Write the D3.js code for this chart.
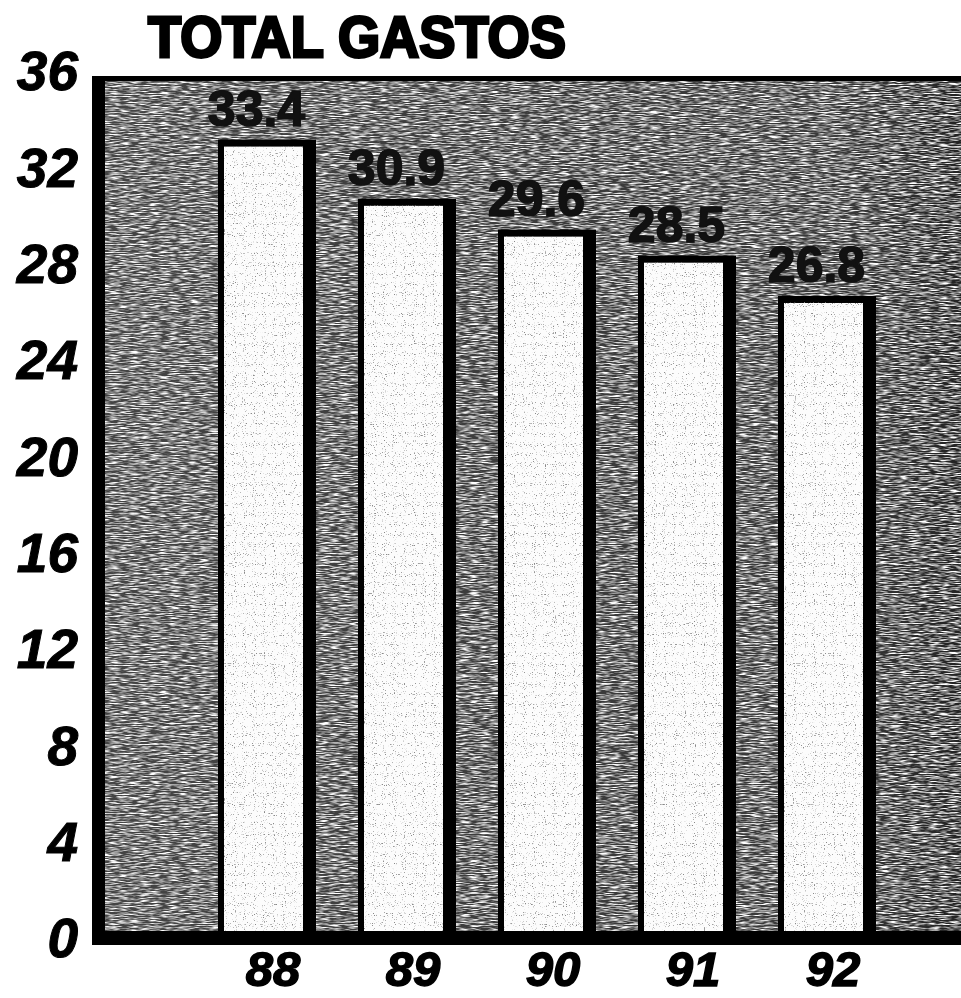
<!DOCTYPE html>
<html>
<head>
<meta charset="utf-8">
<script src="https://cdn.jsdelivr.net/npm/d3@7"></script>
<style>
  body { margin: 0; background: #fff; }
  svg { display: block; }
  text { font-family: "Liberation Sans", Arial, sans-serif; }
</style>
</head>
<body>
<div id="chart"></div>
<script>
// data
const title = "TOTAL GASTOS";
const years = ["88", "89", "90", "91", "92"];
const values = [33.4, 30.9, 29.6, 28.5, 26.8];
const valueLabels = ["33.4", "30.9", "29.6", "28.5", "26.8"];
const yTicks = [0, 4, 8, 12, 16, 20, 24, 28, 32, 36];

const width = 961, height = 998;
const plot = {left: 92, top: 76, right: 961, bottom: 945, border: 13, topBorder: 5, baseBorder: 14};

const svg = d3.select("#chart").append("svg")
    .attr("width", width)
    .attr("height", height);

svg.append("rect").attr("width", width).attr("height", height).attr("fill", "#fff");

const defs = svg.append("defs");

// horizontal streaky print texture for the background
const grain = defs.append("filter").attr("id", "grain")
    .attr("x", 0).attr("y", 0).attr("width", "100%").attr("height", "100%");
grain.append("feTurbulence")
    .attr("type", "fractalNoise")
    .attr("baseFrequency", "0.1 0.9")
    .attr("numOctaves", 2)
    .attr("seed", 7);
grain.append("feColorMatrix")
    .attr("type", "matrix")
    .attr("values", "0 0 0 0 1  0 0 0 0 1  0 0 0 0 1  3 0 0 0 -1.2");

// sparse dark specks on the white bars
const specks = defs.append("filter").attr("id", "specks")
    .attr("x", 0).attr("y", 0).attr("width", "100%").attr("height", "100%");
specks.append("feTurbulence")
    .attr("type", "fractalNoise")
    .attr("baseFrequency", "0.9")
    .attr("numOctaves", 1)
    .attr("seed", 11);
specks.append("feColorMatrix")
    .attr("type", "matrix")
    .attr("values", "0 0 0 0 0.25  0 0 0 0 0.25  0 0 0 0 0.25  7 0 0 0 -4.3");

const shade = defs.append("linearGradient").attr("id", "shade")
    .attr("x1", 0).attr("x2", 1).attr("y1", 0).attr("y2", 0);
shade.append("stop").attr("offset", "0%").attr("stop-color", "#444");
shade.append("stop").attr("offset", "55%").attr("stop-color", "#3a3a3a");
shade.append("stop").attr("offset", "85%").attr("stop-color", "#3a3a3a");
shade.append("stop").attr("offset", "100%").attr("stop-color", "#222");

const y = d3.scaleLinear().domain([0, 36]).range([931, 78]);
// the printed tick numbers sit on a slightly wider spacing than the bars
const yTick = d3.scaleLinear().domain([0, 36]).range([937, 70]);

const x = d3.scaleBand()
    .domain(years)
    .range([197, 897])
    .paddingInner(0.3)
    .paddingOuter(0.15);

// plot background
const bgX = plot.left + plot.border, bgY = plot.top + plot.topBorder;
svg.append("rect")
    .attr("x", bgX).attr("y", bgY)
    .attr("width", plot.right - bgX).attr("height", y(0) - bgY)
    .attr("fill", "url(#shade)");
svg.append("rect")
    .attr("x", bgX).attr("y", bgY)
    .attr("width", plot.right - bgX).attr("height", y(0) - bgY)
    .attr("filter", "url(#grain)");

// frame
svg.append("rect")
    .attr("x", plot.left).attr("y", plot.top)
    .attr("width", plot.border).attr("height", plot.bottom - plot.top)
    .attr("fill", "#000");
svg.append("rect")
    .attr("x", plot.left).attr("y", plot.top)
    .attr("width", plot.right - plot.left).attr("height", plot.topBorder)
    .attr("fill", "#000");
svg.append("rect")
    .attr("x", plot.left).attr("y", y(0))
    .attr("width", plot.right - plot.left).attr("height", plot.baseBorder)
    .attr("fill", "#000");

// bars: black block with a white face, thick shadow on the right
const bars = svg.selectAll(".bar")
    .data(years)
    .enter()
    .append("g")
    .attr("class", "bar");

bars.append("rect")
    .attr("x", d => x(d))
    .attr("y", (d, i) => y(values[i]))
    .attr("width", x.bandwidth())
    .attr("height", (d, i) => y(0) - y(values[i]))
    .attr("fill", "#000");

bars.append("rect")
    .attr("x", d => x(d) + 6)
    .attr("y", (d, i) => y(values[i]) + 7)
    .attr("width", x.bandwidth() - 19)
    .attr("height", (d, i) => y(0) - y(values[i]) - 7)
    .attr("fill", "#fcfcfc");

bars.append("rect")
    .attr("x", d => x(d) + 6)
    .attr("y", (d, i) => y(values[i]) + 7)
    .attr("width", x.bandwidth() - 19)
    .attr("height", (d, i) => y(0) - y(values[i]) - 7)
    .attr("filter", "url(#specks)");

bars.append("text")
    .attr("x", d => x(d) + (x.bandwidth() - 13) / 2 - 4)
    .attr("y", (d, i) => y(values[i]) - 14)
    .attr("text-anchor", "middle")
    .attr("font-size", 50)
    .attr("font-weight", "bold")
    .attr("fill", "#111")
    .attr("stroke", "#111")
    .attr("stroke-width", 1.5)
    .text((d, i) => valueLabels[i]);

// y axis numbers
const yAxis = svg.append("g")
    .attr("transform", "translate(78,0)")
    .call(d3.axisLeft(yTick).tickValues(yTicks).tickSize(0).tickPadding(0).tickFormat(d3.format("d")));
yAxis.select(".domain").remove();
yAxis.selectAll("text")
    .attr("font-family", "'Liberation Sans', Arial, sans-serif")
    .attr("font-size", 55)
    .attr("font-weight", "bold")
    .attr("font-style", "italic")
    .attr("fill", "#000")
    .attr("stroke", "#000")
    .attr("stroke-width", 1)
    .attr("dy", "0.36em");

// x axis years
const xAxis = svg.append("g")
    .attr("transform", "translate(6,0)")
    .call(d3.axisBottom(x).tickSize(0).tickPadding(0));
xAxis.select(".domain").remove();
xAxis.selectAll("text")
    .attr("y", 986)
    .attr("dy", 0)
    .attr("font-family", "'Liberation Sans', Arial, sans-serif")
    .attr("font-size", 49)
    .attr("font-weight", "bold")
    .attr("font-style", "italic")
    .attr("fill", "#000")
    .attr("stroke", "#000")
    .attr("stroke-width", 1.5);

// title
svg.append("text")
    .attr("x", 148)
    .attr("y", 57)
    .attr("font-size", 58)
    .attr("font-weight", "bold")
    .attr("fill", "#000")
    .attr("stroke", "#000")
    .attr("stroke-width", 3)
    .attr("textLength", 418)
    .attr("lengthAdjust", "spacingAndGlyphs")
    .text(title);
</script>
</body>
</html>
